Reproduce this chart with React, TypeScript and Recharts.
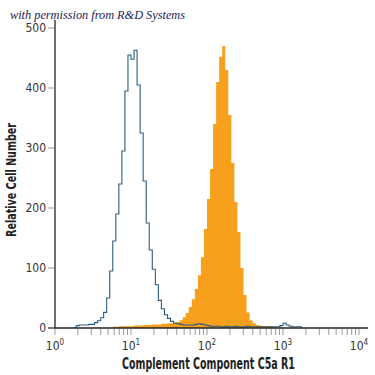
import { ComposedChart, Line, Area, XAxis, YAxis, ReferenceLine } from 'recharts';

// histogram channels, log10 units
const BIN_WIDTH = 0.04;

// isotype control (blue outline)
const controlStart = 0.28;
const controlCounts = [
  4, 5, 5, 5, 6, 6, 9, 12, 17, 26, 50, 95, 145, 190, 240, 295, 395, 455, 448, 463,
  405, 325, 245, 175, 130, 98, 72, 46, 32, 22, 16, 11, 8, 7, 6, 5, 5, 5, 5, 6,
  7, 6, 5, 4, 3, 3, 3, 2, 2, 3, 2, 2, 3, 2, 2, 2, 3, 2, 2, 2,
  2, 2, 2, 2, 2, 2, 2, 4, 8, 5, 3, 2, 2, 2,
];

// C5a R1 stained (orange fill)
const stainedStart = 0.76;
const stainedCounts = [
  2, 2, 3, 3, 3, 3, 3, 4, 4, 4, 5, 5, 5, 6, 6, 6, 7, 7, 8, 8,
  9, 10, 13, 18, 25, 35, 48, 65, 88, 118, 165, 215, 265, 340, 410, 452, 470, 430, 355, 275,
  210, 160, 100, 55, 26, 13, 8, 5, 4, 3, 3, 2, 2, 1,
];

const decades = [0, 1, 2, 3, 4];
const yTicks = [0, 100, 200, 300, 400, 500];

const r2 = (v: number) => Math.round(v * 100) / 100;

// major ticks at each decade, minor ticks at 2..9 within it
const xTicks: number[] = [];
decades.forEach((d) => {
  xTicks.push(d);
  if (d < 4) for (let k = 2; k <= 9; k++) xTicks.push(d + Math.log10(k));
});

const valueAt = (start: number, counts: number[], e: number) => {
  const i = Math.round((e - start) / BIN_WIDTH);
  if (i >= 0 && i < counts.length) return counts[i];
  if (i === -1 || i === counts.length) return 0;
  return null;
};

const firstEdge = Math.min(controlStart, stainedStart) - BIN_WIDTH;
const lastEdge = Math.max(
  controlStart + controlCounts.length * BIN_WIDTH,
  stainedStart + stainedCounts.length * BIN_WIDTH
);
const data: { x: number; control: number | null; stained: number | null }[] = [];
for (let e = firstEdge; e <= lastEdge + 1e-6; e += BIN_WIDTH) {
  const x = r2(e);
  data.push({ x, control: valueAt(controlStart, controlCounts, x), stained: valueAt(stainedStart, stainedCounts, x) });
}

const FONT = "'Liberation Sans Narrow', 'DejaVu Sans Condensed', 'Open Sans', sans-serif";

const XTick = ({ x, y, payload }: any) => {
  const v = payload.value;
  const major = decades.includes(v);
  return (
    <g>
      <line x1={x} y1={y + 1} x2={x} y2={y + 7} stroke="#9a9a9a" strokeWidth={1} />
      {major && (
        <text x={x} y={y + 22} textAnchor="middle" fontFamily={FONT} fontSize={12} fill="#333">
          10<tspan dy={-5} fontSize={8}>{v}</tspan>
        </text>
      )}
    </g>
  );
};

const YTick = ({ x, y, payload }: any) => (
  <g>
    <line x1={x} y1={y} x2={x + 6} y2={y} stroke="#9a9a9a" strokeWidth={1} />
    <text x={x - 2} y={y + 4} textAnchor="end" fontFamily={FONT} fontSize={12} fill="#333">
      {payload.value}
    </text>
  </g>
);

export default function App() {
  return (
    <div style={{ position: 'absolute', left: 0, top: 0, width: 375, height: 375, background: '#fff' }}>
      <ComposedChart width={375} height={375} data={data} margin={{ top: 20, right: 7, left: 0, bottom: 0 }}>
        <XAxis
          dataKey="x"
          type="number"
          domain={[-0.092, 4.118]}
          ticks={xTicks}
          interval={0}
          allowDataOverflow
          height={47}
          tickSize={0}
          tickMargin={0}
          axisLine={{ stroke: '#222', strokeWidth: 1.3 }}
          tickLine={false}
          tick={<XTick />}
        />
        <YAxis
          type="number"
          domain={[0, 513.33]}
          ticks={yTicks}
          interval={0}
          allowDataOverflow
          width={48}
          tickSize={0}
          tickMargin={0}
          axisLine={false}
          tickLine={false}
          tick={<YTick />}
        />
        <ReferenceLine x={0} stroke="#222" strokeWidth={1.3} />
        <Area
          dataKey="stained"
          type="stepAfter"
          fill="#F6A01E"
          fillOpacity={1}
          stroke="none"
          baseValue={0}
          connectNulls={false}
          isAnimationActive={false}
          dot={false}
          activeDot={false}
        />
        <Line
          dataKey="control"
          type="stepAfter"
          stroke="#2c5d80"
          strokeWidth={1.1}
          dot={false}
          activeDot={false}
          connectNulls={false}
          isAnimationActive={false}
        />
      </ComposedChart>
      <svg width={375} height={375} style={{ position: 'absolute', left: 0, top: 0, pointerEvents: 'none' }}>
        <text x={10} y={19} textLength={175} lengthAdjust="spacingAndGlyphs" fontFamily="'Liberation Serif', 'DejaVu Serif', serif" fontStyle="italic" fontSize={12} fill="#1b2456">
          with permission from R&amp;D Systems
        </text>
        <text x={122} y={369} textLength={173} lengthAdjust="spacingAndGlyphs" fontFamily={FONT} fontWeight="bold" fontSize={15} fill="#222">
          Complement Component C5a R1
        </text>
        <text
          x={123}
          y={16}
          textLength={114}
          lengthAdjust="spacingAndGlyphs"
          transform="rotate(-90 0 0) translate(-360 0)"
          fontFamily={FONT}
          fontWeight="bold"
          fontSize={14}
          fill="#222"
        >
          Relative Cell Number
        </text>
      </svg>
    </div>
  );
}
